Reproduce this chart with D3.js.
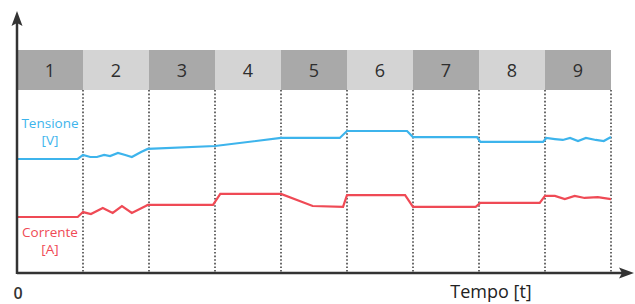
<!DOCTYPE html>
<html>
<head>
<meta charset="utf-8">
<script src="https://d3js.org/d3.v7.min.js"></script>
<style>
    body { margin: 0; background: #fff; }
    text { font-family: "Open Sans", sans-serif; }
</style>
</head>
<body>
<div id="chart"></div>
<script>
// Time slots shown in the header bar
var slots = ["1", "2", "3", "4", "5", "6", "7", "8", "9"];

// Tensione [V] : time (slot units) and level
var tensioneT = [0, 0.92, 1.0, 1.11, 1.21, 1.32, 1.41, 1.53, 1.64, 1.74, 1.88, 1.98, 3.0, 4.0, 4.89, 5.0,
    5.91, 6.0, 6.97, 7.02, 7.97, 8.02, 8.15, 8.27, 8.38, 8.5, 8.62, 8.77, 8.89, 9.0];
var tensioneV = [62.3, 62.3, 64.5, 63.4, 63.4, 64.5, 63.9, 65.6, 64.5, 63.4, 66.1, 67.8, 69.4, 73.8, 73.8, 77.6,
    77.6, 74.3, 74.3, 71.6, 71.6, 73.8, 73.2, 72.7, 73.8, 72.1, 73.8, 72.7, 72.1, 74.3];

// Corrente [A] : time (slot units) and level
var correnteT = [0, 0.92, 1.0, 1.12, 1.3, 1.45, 1.59, 1.74, 1.95, 1.98, 2.97, 3.08, 4.0, 4.48, 4.94, 5.0,
    5.88, 6.0, 6.95, 7.02, 7.92, 8.0, 8.15, 8.3, 8.45, 8.6, 8.8, 9.0];
var correnteV = [30.6, 30.6, 33.3, 32.2, 35.5, 32.8, 36.6, 32.8, 36.6, 37.2, 37.2, 43.2, 43.2, 36.6, 36.1, 42.6,
    42.6, 36.1, 36.1, 38.3, 38.3, 42.1, 42.1, 40.4, 42.1, 41.0, 41.5, 40.4];

var width = 635, height = 304;
var x0 = 17, x1 = 611, axisY = 273, bandTop = 50, bandBottom = 90;

var svg = d3.select("#chart").append("svg")
    .attr("width", width)
    .attr("height", height);

var xScale = d3.scaleLinear().domain([0, slots.length]).range([x0, x1]);
var yScale = d3.scaleLinear().domain([0, 100]).range([axisY, bandBottom]);
var bandScale = d3.scaleBand().domain(slots).range([x0, x1]);

//header bar with alternating grey cells
svg.selectAll("rect.slot")
    .data(slots)
    .enter()
    .append("rect")
    .attr("class", "slot")
    .attr("x", function(d) { return bandScale(d); })
    .attr("y", bandTop)
    .attr("width", bandScale.bandwidth())
    .attr("height", bandBottom - bandTop)
    .attr("fill", function(d, i) { return i % 2 == 0 ? "#a9a9a9" : "#d4d4d4"; });

svg.selectAll("text.slot")
    .data(slots)
    .enter()
    .append("text")
    .attr("class", "slot")
    .attr("x", function(d) { return bandScale(d) + bandScale.bandwidth() / 2; })
    .attr("y", (bandTop + bandBottom) / 2 + 6.5)
    .attr("text-anchor", "middle")
    .attr("font-size", 18)
    .attr("fill", "#2e2e2e")
    .text(function(d) { return d; });

//dotted separators under the bar
svg.selectAll("line.sep")
    .data(d3.range(1, slots.length + 1))
    .enter()
    .append("line")
    .attr("class", "sep")
    .attr("x1", function(d) { return xScale(d); })
    .attr("x2", function(d) { return xScale(d); })
    .attr("y1", bandBottom)
    .attr("y2", axisY)
    .attr("stroke", "#444")
    .attr("stroke-width", 1.6)
    .attr("stroke-dasharray", "1.6,2");

// the two signals
var line = d3.line()
    .x(function(d) { return xScale(d[0]); })
    .y(function(d) { return yScale(d[1]); });

svg.append("path")
    .datum(d3.zip(tensioneT, tensioneV))
    .attr("d", line)
    .attr("fill", "none")
    .attr("stroke", "#3db4ec")
    .attr("stroke-width", 2.2);

svg.append("path")
    .datum(d3.zip(correnteT, correnteV))
    .attr("d", line)
    .attr("fill", "none")
    .attr("stroke", "#ef4a55")
    .attr("stroke-width", 2.2);

// series labels
var labels = [
    {lines: ["Tensione", "[V]"], y: 128, color: "#3db4ec"},
    {lines: ["Corrente", "[A]"], y: 237, color: "#ef4a55"}
];
labels.forEach(function(l) {
    l.lines.forEach(function(t, i) {
        svg.append("text")
            .attr("x", 50)
            .attr("y", l.y + i * 17)
            .attr("text-anchor", "middle")
            .attr("font-size", 13.5)
            .attr("fill", l.color)
            .text(t);
    });
});

// axes with arrow heads
svg.append("line")
    .attr("x1", x0).attr("y1", axisY + 1)
    .attr("x2", x0).attr("y2", 22)
    .attr("stroke", "#333")
    .attr("stroke-width", 2.5);
svg.append("path")
    .attr("d", "M" + x0 + ",11 L" + (x0 + 5.5) + ",26 L" + x0 + ",23 L" + (x0 - 5.5) + ",26 z")
    .attr("fill", "#333");

svg.append("line")
    .attr("x1", x0).attr("y1", axisY)
    .attr("x2", 624).attr("y2", axisY)
    .attr("stroke", "#333")
    .attr("stroke-width", 2.5);
svg.append("path")
    .attr("d", "M634," + axisY + " L619," + (axisY - 5.5) + " L622," + axisY + " L619," + (axisY + 5.5) + " z")
    .attr("fill", "#333");

svg.append("text")
    .attr("x", 18)
    .attr("y", 299)
    .attr("text-anchor", "middle")
    .attr("font-size", 16)
    .attr("font-weight", 600)
    .attr("fill", "#333")
    .text("0");

svg.append("text")
    .attr("x", 491)
    .attr("y", 298)
    .attr("text-anchor", "middle")
    .attr("font-size", 18)
    .attr("fill", "#222")
    .text("Tempo [t]");
</script>
</body>
</html>
